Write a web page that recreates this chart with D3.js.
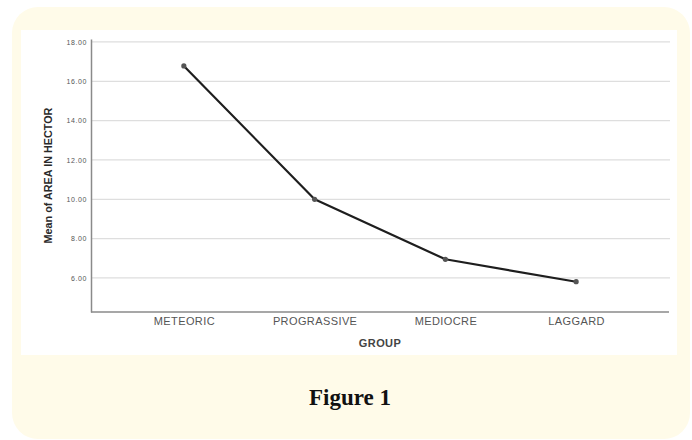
<!DOCTYPE html>
<html>
<head>
<meta charset="utf-8">
<script src="https://cdn.jsdelivr.net/npm/d3@7"></script>
<style>
  html, body { margin: 0; padding: 0; background: #fff; }
  svg { display: block; }
</style>
</head>
<body>
<div id="chart"></div>
<script>
// Mean of AREA IN HECTOR by GROUP (SPSS-style line chart)
const groups = ["METEORIC", "PROGRASSIVE", "MEDIOCRE", "LAGGARD"];
const meanArea = [16.78, 10.0, 6.95, 5.81];
const yTicks = [6, 8, 10, 12, 14, 16, 18];
const yLabel = "Mean of AREA IN HECTOR";
const xLabel = "GROUP";
const caption = "Figure 1";

const W = 692, H = 440;
const plot = { left: 91, right: 669, top: 39, bottom: 312 };
const sans = "Liberation Sans, Arial, sans-serif";

const svg = d3.select("#chart").append("svg")
  .attr("width", W)
  .attr("height", H);

// cream frame and white panel
svg.append("rect")
  .attr("x", 12).attr("y", 7)
  .attr("width", 678).attr("height", 432)
  .attr("rx", 26)
  .attr("fill", "#fffbe9");

svg.append("rect")
  .attr("x", 21).attr("y", 30)
  .attr("width", 656).attr("height", 325)
  .attr("fill", "#fff");

const x = d3.scalePoint().domain(groups)
  .range([plot.left, plot.right]).padding(0.71);
const y = d3.scaleLinear().domain([4.27, 18.15])
  .range([plot.bottom, plot.top]);

// gridlines
svg.append("g")
  .selectAll("line").data(yTicks).join("line")
  .attr("x1", plot.left).attr("x2", plot.right + 1)
  .attr("y1", d => y(d)).attr("y2", d => y(d))
  .attr("stroke", "#dedede")
  .attr("stroke-width", 1.3);

// y axis
svg.append("g")
  .attr("transform", `translate(${plot.left},0)`)
  .call(d3.axisLeft(y).tickValues(yTicks).tickSize(0).tickPadding(4).tickFormat(d3.format(".2f")))
  .call(g => g.select(".domain").attr("stroke", "#8a8a8a").attr("stroke-width", 1.5))
  .call(g => g.selectAll("text")
    .attr("font-family", sans)
    .attr("font-size", 7)
    .attr("letter-spacing", 0.6)
    .attr("fill", "#555"));

// x axis
svg.append("g")
  .attr("transform", `translate(0,${plot.bottom})`)
  .call(d3.axisBottom(x).tickSize(0).tickPadding(5))
  .call(g => g.select(".domain")
    .attr("d", `M${plot.left},0H${plot.right}`)
    .attr("stroke", "#8a8a8a").attr("stroke-width", 1.5))
  .call(g => g.selectAll("text")
    .attr("font-family", sans)
    .attr("font-size", 11)
    .attr("letter-spacing", 0.4)
    .attr("fill", "#555"));

// axis titles
svg.append("text")
  .attr("transform", `translate(52,${(plot.top + plot.bottom) / 2}) rotate(-90)`)
  .attr("text-anchor", "middle")
  .attr("font-family", sans)
  .attr("font-size", 10.8)
  .attr("font-weight", "bold")
  .attr("fill", "#2a2a2a")
  .text(yLabel);

svg.append("text")
  .attr("x", (plot.left + plot.right) / 2)
  .attr("y", 347)
  .attr("text-anchor", "middle")
  .attr("font-family", sans)
  .attr("font-size", 11)
  .attr("letter-spacing", 0.4)
  .attr("font-weight", "bold")
  .attr("fill", "#444")
  .text(xLabel);

// the line and its markers
const pts = groups.map((g, i) => [x(g), y(meanArea[i])]);

svg.append("path")
  .attr("d", d3.line()(pts))
  .attr("fill", "none")
  .attr("stroke", "#1e1e1e")
  .attr("stroke-width", 2.2)
  .attr("stroke-linejoin", "round");

svg.append("g")
  .selectAll("circle").data(pts).join("circle")
  .attr("cx", d => d[0]).attr("cy", d => d[1])
  .attr("r", 2.6)
  .attr("fill", "#555");

// caption
svg.append("text")
  .attr("x", 350)
  .attr("y", 405)
  .attr("text-anchor", "middle")
  .attr("font-family", "Liberation Serif, serif")
  .attr("font-size", 23)
  .attr("font-weight", "bold")
  .attr("fill", "#111")
  .text(caption);
</script>
</body>
</html>
